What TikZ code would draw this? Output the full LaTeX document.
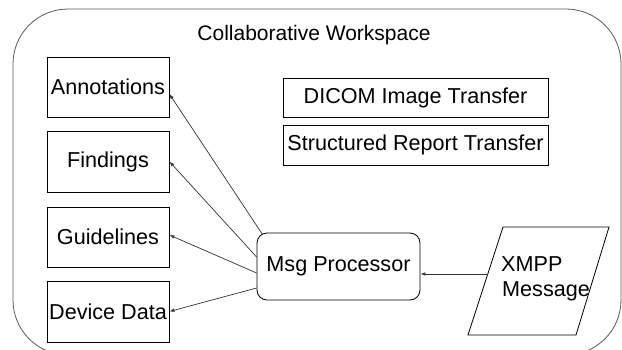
\documentclass[tikz,border=0pt]{standalone}
\usepackage{fontspec}
\setmainfont{Liberation Sans}
\usetikzlibrary{arrows.meta}
\begin{document}
\begin{tikzpicture}[x=1pt,y=-1pt,
  every node/.style={font=\fontsize{21.6}{25}\selectfont},
  box/.style={draw=black, line width=0.8pt, inner sep=0pt},
  sidebox/.style={box, minimum width=122pt},
  arr/.style={draw=black!80, line width=0.7pt, -{Latex[length=5pt,width=3.5pt]}},
]
\useasboundingbox (0,0) rectangle (622,349);
\clip (0,0) rectangle (622,349);

% workspace frame
\node[draw=black!65, line width=0.8pt, rounded corners=55pt,
      minimum width=608pt, minimum height=346pt, inner sep=0pt] (ws) at (317,182) {};
\node[anchor=base, font=\fontsize{21}{25}\selectfont] (title) at (314,40.5) {Collaborative Workspace};

% left column of targets
\node[sidebox, minimum height=60pt] (ann) at (108,87) {Annotations};
\node[sidebox, minimum height=61pt] (fin) at (108,161.5) {Findings};
\node[sidebox, minimum height=60pt] (gui) at (108,237) {Guidelines};
\node[sidebox, minimum height=61pt] (dev) at (108,311.5) {Device Data};

% transfer services
\node[box, minimum width=265pt, minimum height=39pt] (dicom) at (415.5,97.5) {DICOM Image Transfer};
\node[box, minimum width=265pt, minimum height=40pt] (sr) at (415.5,145) {Structured Report Transfer};

% message processor
\node[box, rounded corners=10pt, minimum width=163pt, minimum height=67pt] (msg) at (338.5,266.5) {Msg Processor};

% incoming message (parallelogram)
\draw[line width=0.8pt] (468,335) -- (503,227) -- (609,227) -- (576,335) -- cycle;
\node[align=left, anchor=west, inner sep=0pt] (xmpp) at (502,279) {\hspace*{-1pt}XMPP\\Message};
\coordinate (xin) at (487.5,274);

% connectors
\draw[arr] ([xshift=6pt,yshift=-2pt]msg.north west) -- ([yshift=-7pt]ann.east);
\draw[arr] ([yshift=9.5pt]msg.west) -- (fin.east);
\draw[arr] ([yshift=-6.5pt]msg.west) -- ([yshift=2pt]gui.east);
\draw[arr] ([yshift=-21.5pt]msg.west) -- (dev.east);
\draw[arr] (xin) -- (msg.east |- xin);
\end{tikzpicture}
\end{document}
